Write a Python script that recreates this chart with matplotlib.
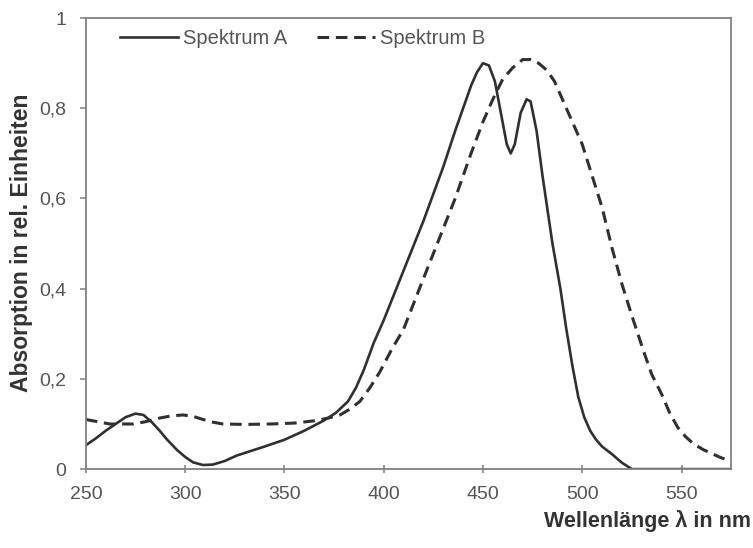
import numpy as np
import matplotlib.pyplot as plt

plt.rcParams['font.family'] = ['Liberation Sans', 'DejaVu Sans']

# Spektrum A
wl_a = [250, 255, 260, 265, 270, 275, 279, 283, 287, 291, 296, 300, 304, 309, 314,
        320, 326, 333, 340, 350, 360, 370, 376, 382, 386, 390, 395, 400, 410, 420,
        430, 436, 440, 444, 447, 450, 453, 456, 459, 462, 464, 466, 469, 472, 474,
        477, 480, 485, 489, 492, 495, 498, 501, 504, 507, 510, 515, 520, 525, 575]
abs_a = [0.053, 0.068, 0.085, 0.10, 0.115, 0.123, 0.12, 0.105, 0.086, 0.065, 0.042,
         0.027, 0.015, 0.009, 0.01, 0.018, 0.03, 0.04, 0.05, 0.065, 0.085, 0.108,
         0.125, 0.15, 0.18, 0.22, 0.28, 0.33, 0.44, 0.55, 0.67, 0.75, 0.80, 0.85,
         0.88, 0.90, 0.895, 0.86, 0.79, 0.72, 0.70, 0.72, 0.79, 0.82, 0.815, 0.75,
         0.65, 0.50, 0.40, 0.31, 0.23, 0.16, 0.115, 0.085, 0.065, 0.05, 0.033, 0.014,
         0.0, 0.0]

# Spektrum B
wl_b = [250, 256, 262, 268, 274, 280, 287, 293, 299, 304, 309, 314, 319, 330, 343,
        355, 365, 372, 378, 383, 388, 393, 398, 404, 410, 418, 427, 436, 444, 450,
        455, 460, 465, 470, 474, 478, 482, 486, 490, 495, 500, 505, 510, 515, 520,
        525, 531, 535, 540, 544, 548, 552, 556, 561, 566, 570, 575]
abs_b = [0.11, 0.105, 0.10, 0.10, 0.10, 0.105, 0.113, 0.118, 0.12, 0.117, 0.11,
         0.104, 0.10, 0.099, 0.10, 0.102, 0.107, 0.113, 0.12, 0.133, 0.15, 0.18,
         0.215, 0.265, 0.31, 0.40, 0.50, 0.60, 0.70, 0.77, 0.82, 0.865, 0.89, 0.908,
         0.908, 0.90, 0.885, 0.86, 0.82, 0.77, 0.72, 0.65, 0.58, 0.49, 0.41, 0.34,
         0.26, 0.21, 0.166, 0.125, 0.093, 0.072, 0.056, 0.043, 0.033, 0.025, 0.018]

x_ticks = [250, 300, 350, 400, 450, 500, 550]
y_ticks = [0, 0.2, 0.4, 0.6, 0.8, 1.0]
y_labels = ['0', '0,2', '0,4', '0,6', '0,8', '1']

fig = plt.figure(figsize=(7.53, 5.48), dpi=100)
ax = fig.add_axes([0.114, 0.144, 0.857, 0.823])

line_col = '#303030'
ax.plot(wl_a, abs_a, color=line_col, lw=1.9, label='Spektrum A')
ax.plot(wl_b, abs_b, color=line_col, lw=2.2, dashes=(3.8, 2.2), label='Spektrum B')

ax.set_xlim(250, 575)
ax.set_ylim(0, 1)
ax.set_xticks(x_ticks)
ax.set_yticks(y_ticks)
ax.set_yticklabels(y_labels)

for s in ax.spines.values():
    s.set_color('#808080')
    s.set_linewidth(1.3)
ax.tick_params(colors='#808080', labelcolor='#555555', labelsize=14, length=6,
               width=1.1, direction='inout', pad=9)
ax.tick_params(axis='y', direction='out', length=4, pad=10)

fig.text(22 / 753, 0.557, 'Absorption in rel. Einheiten', fontsize=16.5,
         fontweight='bold', color='#333333', rotation=90, ha='center', va='center')
fig.text(0.997, 0.03, 'Wellenlänge λ in nm', fontsize=15.5, fontweight='bold',
         color='#333333', ha='right', va='bottom')

ax.legend(loc='upper left', ncol=2, frameon=False, fontsize=14.5, handlelength=2.9,
          handletextpad=0.25, columnspacing=1.45, borderpad=0, borderaxespad=0,
          bbox_to_anchor=(0.053, 0.976), labelcolor='#555555')

fig.savefig('out.png', dpi=100)
